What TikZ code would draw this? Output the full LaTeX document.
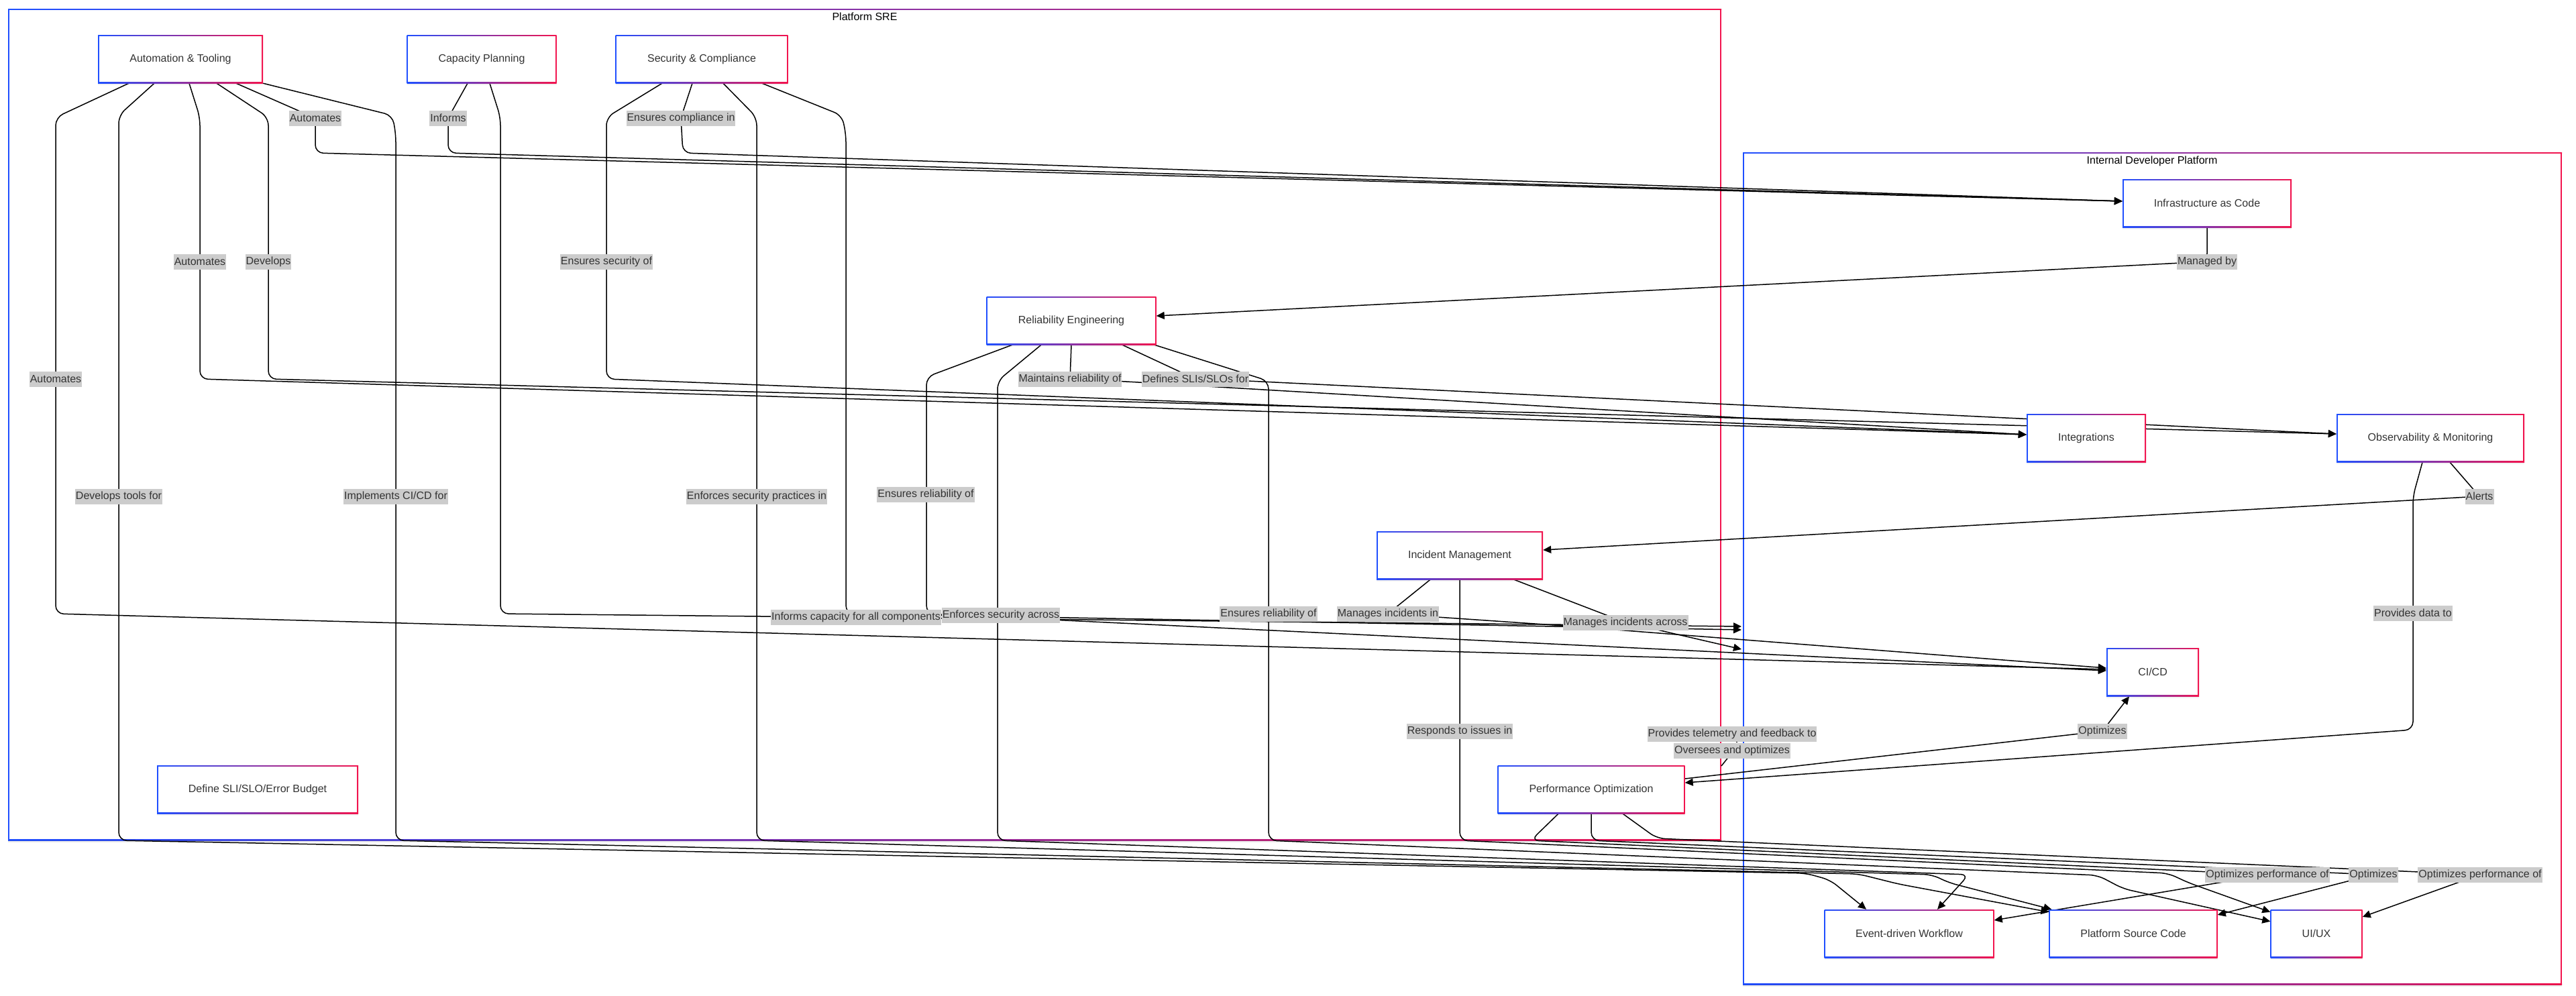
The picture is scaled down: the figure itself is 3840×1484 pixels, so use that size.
\documentclass[tikz,border=0pt]{standalone}
\usepackage{fontspec}
\setmainfont{Liberation Sans}
\usetikzlibrary{arrows.meta,shadows,calc}

\definecolor{cblue}{HTML}{1F4FFF}
\definecolor{cred}{HTML}{F2144E}
\definecolor{lblbg}{RGB}{204,204,204}
\definecolor{ink}{HTML}{333333}

\pgfdeclarelayer{frames}
\pgfdeclarelayer{wires}
\pgfsetlayers{frames,wires,main}

\tikzset{
  txt/.style={font=\fontsize{16pt}{19pt}\selectfont},
  box/.style={rectangle, minimum height=72pt, inner sep=0pt, text=ink, txt,
    drop shadow={shadow xshift=0pt, shadow yshift=-3pt, opacity=0.10},
    path picture={
      \shade[left color=cblue, right color=cred]
        (path picture bounding box.south west) rectangle (path picture bounding box.north east);
      \fill[white]
        ([shift={(1.6pt,1.8pt)}]path picture bounding box.south west) rectangle
        ([shift={(-1.6pt,-1.8pt)}]path picture bounding box.north east);
    }},
  lbl/.style={rectangle, fill=lblbg, text=ink, inner xsep=1pt, inner ysep=0pt,
    minimum height=23pt, txt},
  ctitle/.style={txt, text=black, inner sep=0pt},
  wire/.style={draw=black, line width=1.5pt, rounded corners=12pt},
  arr/.style={wire, -{Triangle[length=12pt,width=11pt]}},
}

\begin{document}
\begin{tikzpicture}[x=1pt, y=-1pt]
\useasboundingbox (0,0) rectangle (3840,1484);

% ---------- cluster frames ----------
\begin{pgfonlayer}{frames}
  \fill[white] (0,0) rectangle (3840,1484);
  % Platform SRE
  \shade[left color=cblue, right color=cred] (12,13) rectangle (2566,14.6);
  \shade[left color=cblue, right color=cred] (12,1251) rectangle (2566,1253);
  \fill[black, opacity=0.08] (12,1253) rectangle (2566,1256);
  \fill[cblue] (12,13) rectangle (13.7,1253);
  \fill[cred] (2564.3,13) rectangle (2566,1253);
  % Internal Developer Platform
  \shade[left color=cblue, right color=cred] (2598,227) rectangle (3819,228.6);
  \shade[left color=cblue, right color=cred] (2598,1466) rectangle (3819,1468);
  \fill[black, opacity=0.08] (2598,1468) rectangle (3819,1471);
  \fill[cblue] (2598,227) rectangle (2599.7,1468);
  \fill[cred] (3817.3,227) rectangle (3819,1468);
\end{pgfonlayer}

\node[ctitle] (sreTitle) at (1289,25) {Platform SRE};
\node[ctitle] (idpTitle) at (3208,240) {Internal Developer Platform};

% ---------- Platform SRE nodes ----------
\node[box, minimum width=246pt] (AT)  at (269,88)   {Automation \& Tooling};
\node[box, minimum width=223pt] (CP)  at (718,88)   {Capacity Planning};
\node[box, minimum width=257pt] (SC)  at (1046,88)  {Security \& Compliance};
\node[box, minimum width=253pt] (RE)  at (1597,478) {Reliability Engineering};
\node[box, minimum width=248pt] (IM)  at (2176,828) {Incident Management};
\node[box, minimum width=279pt] (PO)  at (2372,1177) {Performance Optimization};
\node[box, minimum width=300pt] (SLI) at (384,1177) {Define SLI/SLO/Error Budget};

% ---------- Internal Developer Platform nodes ----------
\node[box, minimum width=252pt] (IAC)  at (3290,303)  {Infrastructure as Code};
\node[box, minimum width=178pt] (INT)  at (3110,653)  {Integrations};
\node[box, minimum width=280pt] (OBS)  at (3623,653)  {Observability \& Monitoring};
\node[box, minimum width=138pt] (CICD) at (3209,1002) {CI/CD};
\node[box, minimum width=253pt] (EDW)  at (2846,1392) {Event-driven Workflow};
\node[box, minimum width=251pt] (PSC)  at (3180,1392) {Platform Source Code};
\node[box, minimum width=137pt] (UX)   at (3453,1392) {UI/UX};

% ---------- edge labels ----------
\node[lbl] (lAutIac)   at (470,176)   {Automates};
\node[lbl] (lInforms)  at (668,176)   {Informs};
\node[lbl] (lCompl)    at (1015,176)  {Ensures compliance in};
\node[lbl] (lAutInt)   at (298,390)   {Automates};
\node[lbl] (lDevelops) at (400,390)   {Develops};
\node[lbl] (lSecOf)    at (904,390)   {Ensures security of};
\node[lbl] (lAutCi)    at (83,565)    {Automates};
\node[lbl] (lMaint)    at (1595,565)  {Maintains reliability of};
\node[lbl] (lSlo)      at (1782,565)  {Defines SLIs/SLOs for};
\node[lbl] (lTools)    at (177,740)   {Develops tools for};
\node[lbl] (lImpl)     at (590,740)   {Implements CI/CD for};
\node[lbl] (lSecPr)    at (1128,740)  {Enforces security practices in};
\node[lbl] (lRelA)     at (1380,737)  {Ensures reliability of};
\node[lbl] (lCap)      at (1276,920)  {Informs capacity for all components};
\node[lbl] (lSecAc)    at (1492,917)  {Enforces security across};
\node[lbl] (lRelB)     at (1891,915)  {Ensures reliability of};
\node[lbl] (lIncIn)    at (2069,915)  {Manages incidents in};
\node[lbl] (lIncAc)    at (2423,928)  {Manages incidents across};
\node[lbl] (lResp)     at (2176,1090) {Responds to issues in};
\node[lbl] (lTele)     at (2582,1094) {Provides telemetry and feedback to};
\node[lbl] (lOver)     at (2582,1119) {Oversees and optimizes};
\node[lbl] (lOptCi)    at (3134,1090) {Optimizes};
\node[lbl] (lData)     at (3597,914)  {Provides data to};
\node[lbl] (lManaged)  at (3290,390)  {Managed by};
\node[lbl] (lAlerts)   at (3696,740)  {Alerts};
\node[lbl] (lPerfA)    at (3380,1304) {Optimizes performance of};
\node[lbl] (lOptB)     at (3538,1304) {Optimizes};
\node[lbl] (lPerfC)    at (3697,1304) {Optimizes performance of};

% free ends on the cluster borders
\coordinate (idpA) at (2596,934);
\coordinate (idpB) at (2596,939);
\coordinate (idpC) at (2596,968);
\coordinate (sreEdge) at (2566,1142);

% ---------- connectors ----------
\begin{pgfonlayer}{wires}
  % Automation & Tooling
  \draw[arr] ([xshift=-77pt]AT.south) -- (83,175) -- (83,915) -- ([yshift=4pt]CICD.west);
  \draw[arr] ([xshift=-39pt]AT.south) -- (177,172) -- (177,1253) -- (2692,1302) -- (2728,1312) -- ([xshift=-64pt]EDW.north);
  \draw[arr] ([xshift=13pt]AT.south) -- (298,175) -- (298,565) -- ([yshift=5pt]INT.west);
  \draw[arr] ([xshift=54pt]AT.south) -- (400,175) -- (400,565) -- ([yshift=6pt]OBS.west);
  \draw[arr] ([xshift=83pt]AT.south) -- (lAutIac.center) -- (470,228) -- ([yshift=3pt]IAC.west);
  \draw[arr] (AT.south east) -- (585,172) -- (590,200) -- (590,1253) -- (2770,1303) -- (2830,1318) -- ([yshift=-4pt]PSC.north west);

  % Capacity Planning
  \draw[arr] ([xshift=-21pt]CP.south) -- (lInforms.center) -- (668,228) -- ([yshift=3pt]IAC.west);
  \draw[arr] ([xshift=12pt]CP.south) -- (746,175) -- (746,915) -- (idpA);

  % Security & Compliance
  \draw[arr] ([xshift=-59pt]SC.south) -- (904,175) -- (904,565) -- ([yshift=5pt]INT.west);
  \draw[arr] ([xshift=-14pt]SC.south) -- (lCompl.center) -- (1018,228) -- ([yshift=3pt]IAC.west);
  \draw[arr] ([xshift=32pt]SC.south) -- (1128,175) -- (1128,1253) -- (2880,1304) -- (2905,1316) -- ([xshift=4pt]PSC.north west);
  \draw[arr] ([xshift=90pt]SC.south) -- (1255,172) -- (1261,200) -- (1261,915) -- (idpB);

  % Reliability Engineering
  \draw[arr] ([xshift=-88pt]RE.south) -- (1381,562) -- (1381,915) -- ([yshift=2pt]CICD.west);
  \draw[arr] ([xshift=-45pt]RE.south) -- (1487,568) -- (1487,1253) -- (2935,1304) -- ([xshift=42pt]EDW.north);
  \draw[arr] (RE.south) -- (lMaint.center) -- (1680,569) -- ([yshift=5pt]INT.west);
  \draw[arr] ([xshift=76pt]RE.south) -- (lSlo.center) -- (1860,568) -- ([yshift=6pt]OBS.west);
  \draw[arr] ([xshift=124pt]RE.south) -- (1891,568) -- (1891,1253) -- (3127,1305) -- (3165,1325) -- ([yshift=-18pt]UX.north west);

  % Infrastructure as Code
  \draw[arr] (IAC.south) -- (lManaged.center) -- ([yshift=7pt]RE.east);

  % Observability & Monitoring
  \draw[arr] ([xshift=29pt]OBS.south) -- (lAlerts.center) -- ([yshift=8pt]IM.east);
  \draw[arr] ([xshift=-12pt]OBS.south) -- (3597,740) -- (3597,1088) -- ([yshift=10pt]PO.east);

  % Incident Management
  \draw[arr] ([xshift=-44pt]IM.south) -- (lIncIn.center) -- (2332,933) -- ([yshift=6pt]CICD.west);
  \draw[arr] (IM.south) -- (2176,1253) -- (3232,1302) -- (3262,1316) -- ([yshift=-4pt]UX.north west);
  \draw[arr] ([xshift=81pt]IM.south) -- (lIncAc.center) -- (idpC);

  % Performance Optimization
  \draw[arr] ([yshift=16pt]PO.east) -- (lOptCi.center) -- ([xshift=-35pt]CICD.south);
  \draw[arr] ([xshift=-49pt]PO.south) -- (2282,1253) -- (lPerfA.center) -- ([yshift=20pt]EDW.east);
  \draw[arr] (PO.south) -- (2372,1253) -- (lOptB.center) -- ([yshift=28pt]PSC.east);
  \draw[arr] ([xshift=47pt]PO.south) -- (2470,1250) -- (lPerfC.center) -- ([yshift=25pt]UX.east);

  % between the two platforms
  \draw[wire] ([xshift=7pt]lTele.south) -- ([xshift=7pt]lOver.north);
  \draw[wire] ([xshift=-7pt]lOver.south) -- (sreEdge);
\end{pgfonlayer}
\end{tikzpicture}
\end{document}
